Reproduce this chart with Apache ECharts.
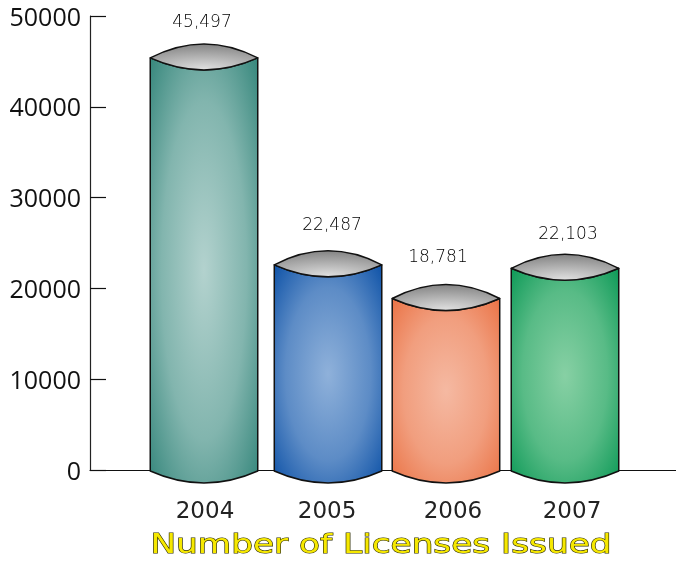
<!DOCTYPE html>
<html><head><meta charset="utf-8">
<style>html,body{margin:0;padding:0;background:#fff}#c{width:676px;height:562px}</style>
<script src="https://cdn.jsdelivr.net/npm/echarts@6/dist/echarts.min.js"></script>
</head><body><div id="c"></div>
<script>
const categories = ['2004', '2005', '2006', '2007'];
const licenses = [45497, 22487, 18781, 22103];
const yTicks = [0, 10000, 20000, 30000, 40000, 50000];
const chartTitle = 'Number of Licenses Issued';

// styling only
const bodyCenter = ['#b3d2ce', '#8fb1da', '#f5b9a2', '#87d0a4'];
const bodyEdge = ['#33857a', '#0b50a6', '#ea7143', '#0a9855'];
const barShift = [0, 3.7, 1.3, 0];
const topShift = [2, 0, 0, 0];
const tickLabelShift = [1, 2.7, 8.3, 7];
const labelDx = [-2, 4, -8, 3];
const labelDy = [-35, -39, -41, -34];

const chart = echarts.init(document.getElementById('c'));

function gradientShape(x, y, W, H, build, fill) {
  // fill drawn in a square local box so that the radial gradient stays elliptical once scaled
  const k = W / H;
  return {
    type: 'path', x: x, y: y, scaleX: 1, scaleY: 1 / k,
    shape: { pathData: build(v => v - x, v => (v - y) * k) },
    style: { fill: fill, stroke: null }
  };
}

function outline(build) {
  return {
    type: 'path',
    shape: { pathData: build(v => v, v => v) },
    style: { fill: null, stroke: '#111', lineWidth: 1.5, lineJoin: 'round' }
  };
}

function renderBar(params, api) {
  const i = api.value(0);
  const v = api.value(1);
  const c = api.coord([i, v]);
  const base = api.coord([i, 0])[1] + 1;
  const W = 107.5;
  const cx = c[0] + barShift[i];
  const L = cx - W / 2, R = cx + W / 2, top = c[1] - 1 + topShift[i];
  const upH = 14, dnH = 12, botH = 12;

  const bodyPath = (X, Y) =>
    `M${X(L)} ${Y(top)} Q${X(cx)} ${Y(top + 2 * dnH)} ${X(R)} ${Y(top)} L${X(R)} ${Y(base)} Q${X(cx)} ${Y(base + 2 * botH)} ${X(L)} ${Y(base)} Z`;
  const lensPath = (X, Y) =>
    `M${X(L)} ${Y(top)} Q${X(cx)} ${Y(top - 2 * upH)} ${X(R)} ${Y(top)} Q${X(cx)} ${Y(top + 2 * dnH)} ${X(L)} ${Y(top)} Z`;

  const body = gradientShape(L, top, W, base + botH - top, bodyPath,
    { type: 'radial', x: 0.5, y: 0.5, r: 0.72, colorStops: [
      { offset: 0, color: bodyCenter[i] },
      { offset: 0.55, color: echarts.color.lerp(0.38, [bodyCenter[i], bodyEdge[i]]) },
      { offset: 1, color: bodyEdge[i] } ] });
  const lens = gradientShape(L, top - upH, W, upH + dnH, lensPath,
    { type: 'radial', x: 0.5, y: 0.95, r: 1.05, colorStops: [
      { offset: 0, color: '#dedede' }, { offset: 1, color: '#7a7a7a' } ] });

  const label = {
    type: 'text', x: cx + labelDx[i], y: top + labelDy[i],
    style: { text: Number(v).toLocaleString('en-US'), font: '300 17px "DejaVu Sans"', fill: '#000', align: 'center', verticalAlign: 'middle' }
  };
  return { type: 'group', children: [body, outline(bodyPath), lens, outline(lensPath), label] };
}

chart.setOption({
  animation: false,
  backgroundColor: '#fff',
  grid: [
    { left: 143.83, width: 481.33, top: 16, height: 454 },
    { left: 90, width: 586, top: 16, height: 454 }
  ],
  xAxis: [
    { type: 'category', gridIndex: 0,
      data: categories.map((c, i) => ({ value: c, textStyle: { padding: [0, 0, 0, 2 * tickLabelShift[i]] } })),
      axisLine: { show: false }, axisTick: { show: false },
      axisLabel: { margin: 31, fontFamily: 'DejaVu Sans', fontSize: 23, color: '#222' } },
    { type: 'value', gridIndex: 1, min: 0, max: 1,
      axisLine: { show: true, onZero: false, lineStyle: { color: '#111', width: 1.2 } },
      axisTick: { show: false }, axisLabel: { show: false }, splitLine: { show: false } }
  ],
  yAxis: [
    { type: 'value', gridIndex: 0, min: 0, max: 50000, interval: 10000, show: false },
    { type: 'value', gridIndex: 1, min: yTicks[0], max: yTicks[yTicks.length - 1], interval: 10000,
      axisLine: { show: true, lineStyle: { color: '#222', width: 1.2 } },
      axisTick: { show: true, inside: true, length: 16, lineStyle: { color: '#111', width: 1.2 } },
      axisLabel: { margin: 9, fontFamily: 'Open Sans', fontSize: 25, color: '#111', verticalAlign: 'top', padding: [-10, 0, 0, 0], formatter: v => String(v) },
      splitLine: { show: false } }
  ],
  series: [{
    type: 'custom', xAxisIndex: 0, yAxisIndex: 0, clip: false,
    encode: { x: 0, y: 1 },
    data: licenses.map((v, i) => [i, v]),
    renderItem: renderBar
  }],
  graphic: [{
    type: 'text', x: 381, y: 546, scaleX: 1.27, scaleY: 1,
    style: { text: chartTitle, font: '27px "DejaVu Sans"', fill: '#f6e800', stroke: '#2a2a00', lineWidth: 1.1, align: 'center', verticalAlign: 'middle' }
  }]
});
</script></body></html>
